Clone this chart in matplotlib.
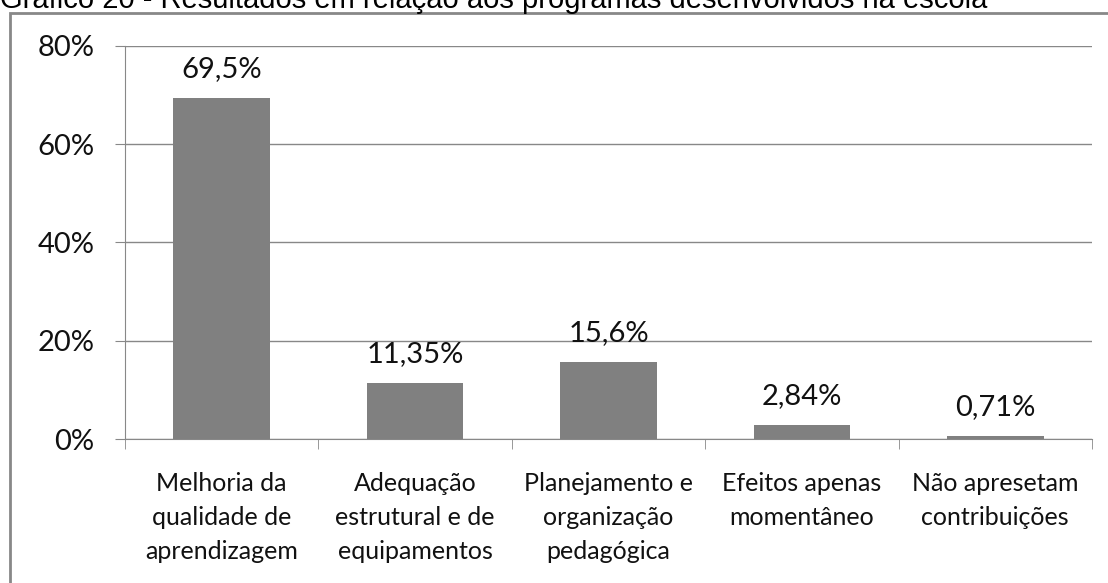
import matplotlib
matplotlib.use("Agg")
import matplotlib.pyplot as plt
from matplotlib.patches import Rectangle

# data
categorias = [
    "Melhoria da\nqualidade de\naprendizagem",
    "Adequação\nestrutural e de\nequipamentos",
    "Planejamento e\norganização\npedagógica",
    "Efeitos apenas\nmomentâneo",
    "Não apresetam\ncontribuições",
]
valores = [69.5, 11.35, 15.6, 2.84, 0.71]
rotulos = ["69,5%", "11,35%", "15,6%", "2,84%", "0,71%"]
yticks = [0, 20, 40, 60, 80]

W, H = 1108, 583
fig = plt.figure(figsize=(W / 100, H / 100), dpi=100)
plt.rcParams['font.family'] = ['Lato', 'DejaVu Sans']

cinza = "#888888"

# outer frame of the chart area (cropped on right and bottom)
fig.patches.append(Rectangle((10 / W, -0.1), 1.2, 1 - 13 / H + 0.1,
                             transform=fig.transFigure, fill=False,
                             edgecolor=cinza, linewidth=2))

# title, partly cut off at the top like the scan
fig.text(0 / W, 1 - 8 / H, "Gráfico 20 - Resultados em relação aos programas desenvolvidos na escola",
         family="Liberation Sans", fontsize=21, ha="left", va="baseline")

ax = fig.add_axes([125 / W, 1 - 439 / H, (1092 - 125) / W, (439 - 46) / H])
x = range(len(categorias))
ax.bar(x, valores, width=0.5, color="#808080", zorder=3)

for xi, v, r in zip(x, valores, rotulos):
    ax.annotate(r, (xi, v), xytext=(0, 15), textcoords="offset points",
                ha="center", va="baseline", fontsize=21, color="#111111")

ax.set_xlim(-0.5, len(categorias) - 0.5)
ax.set_ylim(0, 80)
ax.set_yticks(yticks)
ax.set_yticklabels([f"{t}%" for t in yticks], fontsize=21, color="#111111")
ax.tick_params(axis="y", length=7, color=cinza, pad=15)
ax.yaxis.grid(True, color=cinza, linewidth=1, zorder=0)

ax.set_xticks(list(x))
ax.set_xticklabels(categorias, fontsize=18, color="#111111", linespacing=1.58)
ax.tick_params(axis="x", which="major", length=0, pad=24)
ax.set_xticks([i - 0.5 for i in range(len(categorias) + 1)], minor=True)
ax.tick_params(axis="x", which="minor", length=7, color=cinza)

for s in ["top", "right"]:
    ax.spines[s].set_visible(False)
for s in ["left", "bottom"]:
    ax.spines[s].set_color(cinza)

fig.savefig("out.png", dpi=100)
